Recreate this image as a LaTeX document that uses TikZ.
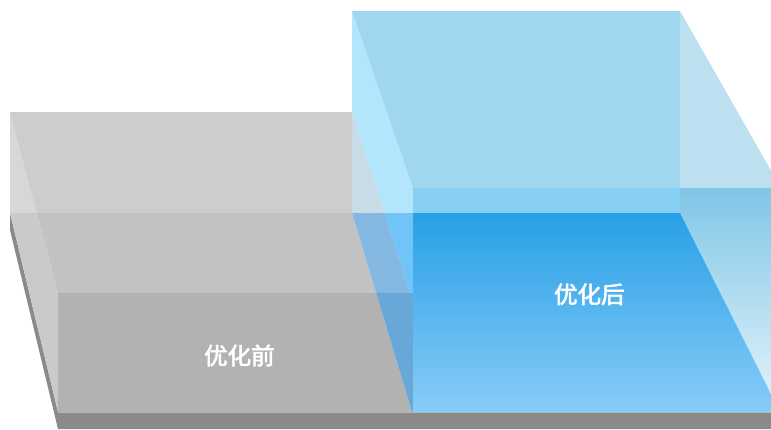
\documentclass[tikz,border=0pt]{standalone}
\usepackage{fontspec}
\newfontfamily\cjk[FakeBold=2.5]{Noto Sans CJK SC}
\definecolor{ombre}{HTML}{8A8A8A}
\definecolor{grisA}{HTML}{CACACA}
\definecolor{grisB}{HTML}{CDCDCD}
\definecolor{grisC}{HTML}{D7D7D7}
\definecolor{grisD}{HTML}{C2C2C2}
\definecolor{grisE}{HTML}{B2B2B2}
\definecolor{bleuA}{HTML}{B3E5FC}
\definecolor{bleuB}{HTML}{C8DCE6}
\definecolor{bleuC}{HTML}{84B8E0}
\definecolor{bleuD}{HTML}{70C4F8}
\definecolor{bleuE}{HTML}{68A8D8}
\definecolor{bleuF}{HTML}{A0D6F0}
\definecolor{bleuG}{HTML}{BDE0F0}
\definecolor{bleuH}{HTML}{87D0F4}
\begin{document}
\begin{tikzpicture}[x=1pt,y=-1pt,
  etiquette/.style={text=white,font=\cjk\fontsize{23.5}{23.5}\selectfont}]
  \useasboundingbox (0,0) rectangle (771,429);
  % socle
  \fill[ombre] (10,213)--(10,230)--(58,429)--(771,429)--(771,412)--(58,412)--cycle;
  % boite grise
  \fill[grisA] (10,112)--(58,293)--(58,412)--(10,213)--cycle;
  \fill[grisB] (10,112) rectangle (352,213);
  \fill[grisC] (10,112)--(36.8,213)--(10,213)--cycle;
  \fill[grisD] (36.8,213)--(352,213)--(376.1,293)--(58,293)--cycle;
  \fill[grisE] (58,293)--(376.1,293)--(412,412)--(58,412)--cycle;
  % recouvrement
  \fill[bleuA] (352,11)--(413,188)--(413,213)--(384.4,213)--(352,112)--cycle;
  \fill[bleuB] (352,112)--(384.4,213)--(352,213)--cycle;
  \fill[bleuC] (352,213)--(384.4,213)--(410,293)--(376.1,293)--cycle;
  \fill[bleuD] (384.4,213)--(413,213)--(413,293)--(410,293)--cycle;
  \fill[bleuE] (376.1,293)--(413,293)--(413,412)--(412,412)--cycle;
  % boite bleue
  \fill[bleuF] (352,11)--(680,11)--(680,188)--(413,188)--cycle;
  \fill[bleuG] (680,11)--(771,170.5)--(771,188)--(680,188)--cycle;
  \fill[bleuH] (413,188) rectangle (680,213);
  \shade[top color={rgb,255:red,128;green,198;blue,230},bottom color={rgb,255:red,222;green,240;blue,250}]
    (680,188)--(771,188)--(771,394)--(680,213)--cycle;
  \shade[top color={rgb,255:red,40;green,160;blue,230},bottom color={rgb,255:red,136;green,204;blue,248}]
    (413,213)--(680,213)--(771,394)--(771,412)--(413,412)--cycle;
  \draw[white,opacity=.35] (58,412)--(771,412);
  \node[etiquette] (avant) at (239.3,355.5) {优化前};
  \node[etiquette] (apres) at (589.3,294.3) {优化后};
\end{tikzpicture}
\end{document}
